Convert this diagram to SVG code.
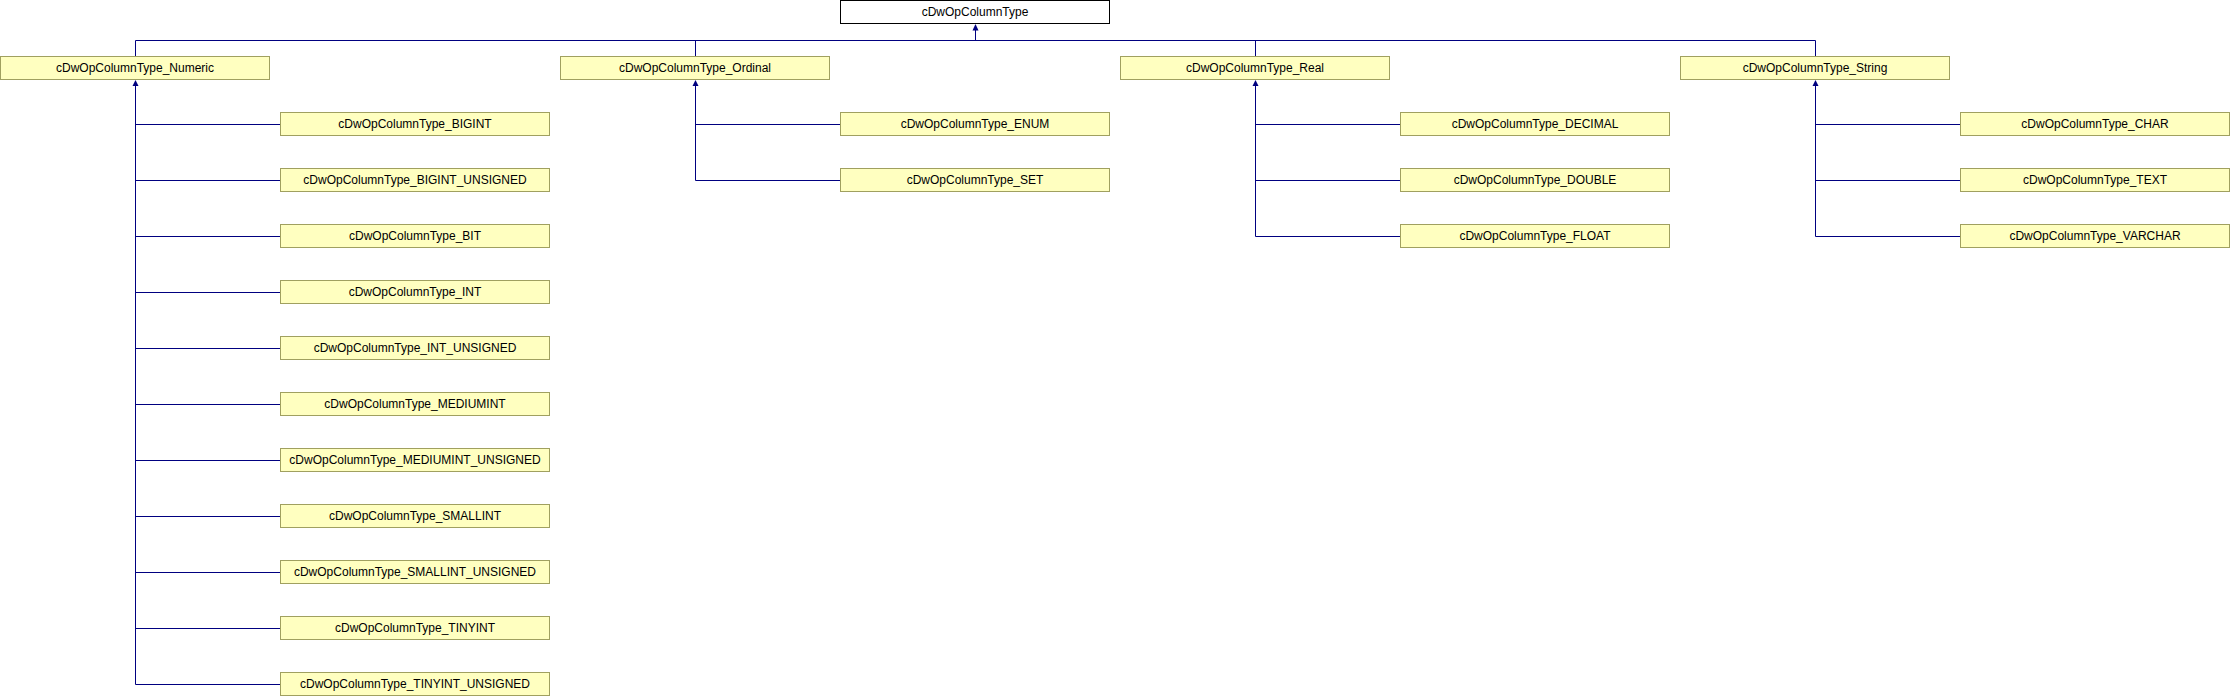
<svg xmlns="http://www.w3.org/2000/svg" width="2230" height="696" viewBox="0 0 2230 696">
<style>
  .box { fill: #ffffc0; stroke: #a0a060; stroke-width: 1; }
  .root { fill: #ffffff; stroke: #000000; stroke-width: 1; }
  .lbl { font-family: "Liberation Sans", Arial, sans-serif; font-size: 12px; fill: #000000; text-anchor: middle; }
  .edge { fill: none; stroke: #000080; stroke-width: 1; }
  .head { fill: #000080; stroke: none; }
</style>
<rect width="2230" height="696" fill="#ffffff"/>
<g id="connectors">
  <path class="edge" d="M975.5,30 V40.5 M135.5,40.5 H1815.5 M135.5,40.5 V56 M695.5,40.5 V56 M1255.5,40.5 V56 M1815.5,40.5 V56"/>
  <polygon class="head" points="975.5,24 972.5,30.5 978.5,30.5"/>
  <path class="edge" d="M135.5,85 V684.5 M135.5,124.5 H280 M135.5,180.5 H280 M135.5,236.5 H280 M135.5,292.5 H280 M135.5,348.5 H280 M135.5,404.5 H280 M135.5,460.5 H280 M135.5,516.5 H280 M135.5,572.5 H280 M135.5,628.5 H280 M135.5,684.5 H280"/>
  <polygon class="head" points="135.5,80 132.5,86 138.5,86"/>
  <path class="edge" d="M695.5,85 V180.5 M695.5,124.5 H840 M695.5,180.5 H840"/>
  <polygon class="head" points="695.5,80 692.5,86 698.5,86"/>
  <path class="edge" d="M1255.5,85 V236.5 M1255.5,124.5 H1400 M1255.5,180.5 H1400 M1255.5,236.5 H1400"/>
  <polygon class="head" points="1255.5,80 1252.5,86 1258.5,86"/>
  <path class="edge" d="M1815.5,85 V236.5 M1815.5,124.5 H1960 M1815.5,180.5 H1960 M1815.5,236.5 H1960"/>
  <polygon class="head" points="1815.5,80 1812.5,86 1818.5,86"/>
</g>
<g id="cDwOpColumnType"><rect class="root" x="840.5" y="0.5" width="269" height="23"/><text class="lbl" x="975" y="16">cDwOpColumnType</text></g>
<g id="Numeric"><rect class="box" x="0.5" y="56.5" width="269" height="23"/><text class="lbl" x="135" y="72">cDwOpColumnType_Numeric</text></g>
<g id="Ordinal"><rect class="box" x="560.5" y="56.5" width="269" height="23"/><text class="lbl" x="695" y="72">cDwOpColumnType_Ordinal</text></g>
<g id="Real"><rect class="box" x="1120.5" y="56.5" width="269" height="23"/><text class="lbl" x="1255" y="72">cDwOpColumnType_Real</text></g>
<g id="String"><rect class="box" x="1680.5" y="56.5" width="269" height="23"/><text class="lbl" x="1815" y="72">cDwOpColumnType_String</text></g>
<g id="BIGINT"><rect class="box" x="280.5" y="112.5" width="269" height="23"/><text class="lbl" x="415" y="128">cDwOpColumnType_BIGINT</text></g>
<g id="BIGINT_UNSIGNED"><rect class="box" x="280.5" y="168.5" width="269" height="23"/><text class="lbl" x="415" y="184">cDwOpColumnType_BIGINT_UNSIGNED</text></g>
<g id="BIT"><rect class="box" x="280.5" y="224.5" width="269" height="23"/><text class="lbl" x="415" y="240">cDwOpColumnType_BIT</text></g>
<g id="INT"><rect class="box" x="280.5" y="280.5" width="269" height="23"/><text class="lbl" x="415" y="296">cDwOpColumnType_INT</text></g>
<g id="INT_UNSIGNED"><rect class="box" x="280.5" y="336.5" width="269" height="23"/><text class="lbl" x="415" y="352">cDwOpColumnType_INT_UNSIGNED</text></g>
<g id="MEDIUMINT"><rect class="box" x="280.5" y="392.5" width="269" height="23"/><text class="lbl" x="415" y="408">cDwOpColumnType_MEDIUMINT</text></g>
<g id="MEDIUMINT_UNSIGNED"><rect class="box" x="280.5" y="448.5" width="269" height="23"/><text class="lbl" x="415" y="464">cDwOpColumnType_MEDIUMINT_UNSIGNED</text></g>
<g id="SMALLINT"><rect class="box" x="280.5" y="504.5" width="269" height="23"/><text class="lbl" x="415" y="520">cDwOpColumnType_SMALLINT</text></g>
<g id="SMALLINT_UNSIGNED"><rect class="box" x="280.5" y="560.5" width="269" height="23"/><text class="lbl" x="415" y="576">cDwOpColumnType_SMALLINT_UNSIGNED</text></g>
<g id="TINYINT"><rect class="box" x="280.5" y="616.5" width="269" height="23"/><text class="lbl" x="415" y="632">cDwOpColumnType_TINYINT</text></g>
<g id="TINYINT_UNSIGNED"><rect class="box" x="280.5" y="672.5" width="269" height="23"/><text class="lbl" x="415" y="688">cDwOpColumnType_TINYINT_UNSIGNED</text></g>
<g id="ENUM"><rect class="box" x="840.5" y="112.5" width="269" height="23"/><text class="lbl" x="975" y="128">cDwOpColumnType_ENUM</text></g>
<g id="SET"><rect class="box" x="840.5" y="168.5" width="269" height="23"/><text class="lbl" x="975" y="184">cDwOpColumnType_SET</text></g>
<g id="DECIMAL"><rect class="box" x="1400.5" y="112.5" width="269" height="23"/><text class="lbl" x="1535" y="128">cDwOpColumnType_DECIMAL</text></g>
<g id="DOUBLE"><rect class="box" x="1400.5" y="168.5" width="269" height="23"/><text class="lbl" x="1535" y="184">cDwOpColumnType_DOUBLE</text></g>
<g id="FLOAT"><rect class="box" x="1400.5" y="224.5" width="269" height="23"/><text class="lbl" x="1535" y="240">cDwOpColumnType_FLOAT</text></g>
<g id="CHAR"><rect class="box" x="1960.5" y="112.5" width="269" height="23"/><text class="lbl" x="2095" y="128">cDwOpColumnType_CHAR</text></g>
<g id="TEXT"><rect class="box" x="1960.5" y="168.5" width="269" height="23"/><text class="lbl" x="2095" y="184">cDwOpColumnType_TEXT</text></g>
<g id="VARCHAR"><rect class="box" x="1960.5" y="224.5" width="269" height="23"/><text class="lbl" x="2095" y="240">cDwOpColumnType_VARCHAR</text></g>
</svg>
